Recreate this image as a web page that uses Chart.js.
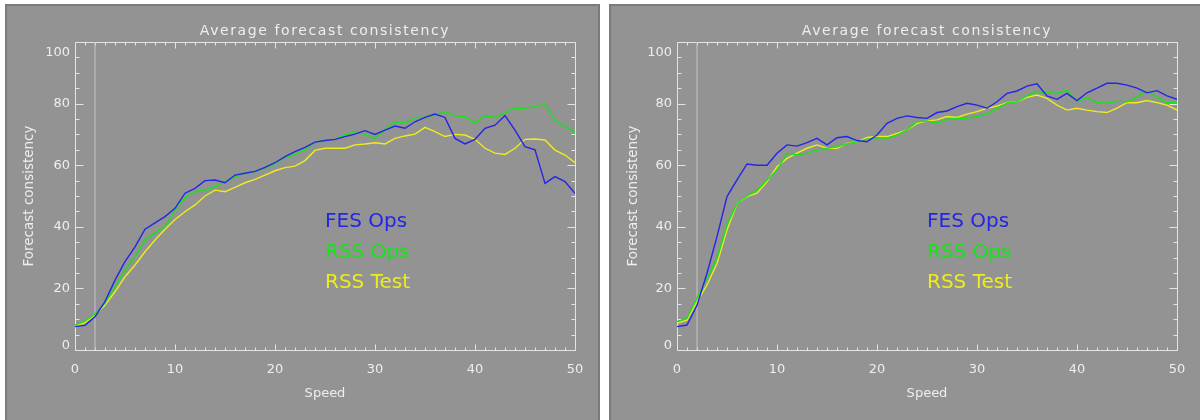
<!DOCTYPE html>
<html>
<head>
<meta charset="utf-8">
<title>Average forecast consistency</title>
<script src="https://cdn.jsdelivr.net/npm/chart.js@4/dist/chart.umd.min.js"></script>
<style>
  html, body { margin: 0; padding: 0; background: #ffffff; width: 1200px; height: 420px; overflow: hidden; }
  .panel { position: absolute; top: 4px; height: 424px; background: #939393; border: 2px solid #7b7b7b; box-sizing: border-box; }
  #panelA { left: 5px; width: 595px; }
  #panelB { left: 609px; width: 595px; }
  .panel canvas { position: absolute; left: 0; top: 0; }
</style>
</head>
<body>
<div class="panel" id="panelA"><canvas id="chartA" width="591" height="414"></canvas></div>
<div class="panel" id="panelB"><canvas id="chartB" width="589" height="414"></canvas></div>
<script>
// ---- data ----------------------------------------------------------------
const speeds = Array.from({ length: 51 }, (_, i) => i);   // speed bins 0..50
const seriesNames = ['FES Ops', 'RSS Ops', 'RSS Test'];
const chartTitle = 'Average forecast consistency';
const xAxisTitle = 'Speed';
const yAxisTitle = 'Forecast consistency';
const xTickStep = 10;
const yTickStep = 20;
const markerSpeed = 2;

// left panel
const fesOpsA = [7.6, 8.0, 10.8, 15.7, 22.7, 28.7, 33.5, 39.2, 41.3, 43.3,
  46.0, 50.9, 52.5, 55.0, 55.2, 54.3, 56.8, 57.4, 58.0, 59.3,
  60.8, 62.8, 64.4, 65.8, 67.5, 68.0, 68.4, 69.3, 70.1, 71.2,
  70.0, 71.4, 72.7, 72.0, 74.1, 75.5, 76.6, 75.5, 68.7, 66.9,
  68.4, 72.0, 73.0, 76.1, 71.4, 66.0, 65.0, 54.1, 56.3, 54.7, 50.9];
const rssOpsA = [8.1, 9.4, 11.7, 15.2, 20.6, 26.0, 30.3, 35.7, 38.1, 40.0,
  45.5, 49.6, 51.4, 51.9, 53.0, 54.7, 56.1, 57.4, 57.9, 59.0,
  60.6, 62.5, 63.5, 65.0, 67.6, 68.2, 68.4, 69.8, 70.9, 70.1,
  68.7, 71.6, 74.1, 73.6, 75.5, 75.5, 76.3, 77.4, 76.0, 75.8,
  73.6, 76.1, 75.5, 76.8, 78.5, 78.5, 79.0, 79.8, 74.5, 72.7, 70.6];
const rssTestA = [7.8, 8.9, 11.4, 14.6, 18.9, 23.8, 27.6, 31.9, 35.7, 39.2,
  42.4, 44.9, 47.1, 50.0, 51.9, 51.4, 52.8, 54.3, 55.4, 56.8,
  58.2, 59.2, 59.7, 61.5, 64.8, 65.5, 65.5, 65.5, 66.6, 66.9,
  67.3, 66.9, 68.7, 69.5, 70.1, 72.3, 70.9, 69.3, 70.0, 69.8,
  68.4, 65.5, 63.9, 63.5, 65.5, 68.4, 68.5, 68.2, 64.9, 63.3, 60.8];

// right panel
const fesOpsB = [7.6, 8.1, 14.5, 24.9, 36.8, 49.8, 55.2, 60.4, 60.0, 60.0,
  63.9, 66.6, 66.2, 67.3, 68.7, 66.6, 68.9, 69.3, 68.0, 67.6,
  69.8, 73.6, 75.2, 76.0, 75.5, 75.2, 77.1, 77.6, 79.0, 80.1,
  79.5, 78.5, 80.6, 83.3, 84.1, 85.7, 86.4, 82.5, 81.4, 83.3,
  81.0, 83.5, 85.0, 86.6, 86.6, 86.0, 85.0, 83.5, 84.2, 82.5, 81.4];
const rssOpsB = [9.2, 10.3, 16.8, 23.3, 29.8, 40.6, 47.6, 50.0, 51.9, 55.2,
  58.4, 63.9, 63.3, 63.9, 64.9, 65.5, 66.0, 66.9, 67.6, 68.4,
  69.0, 68.7, 69.8, 71.4, 74.1, 74.4, 73.6, 74.9, 75.2, 75.2,
  75.8, 76.6, 78.5, 80.1, 80.6, 82.5, 83.9, 83.5, 83.3, 84.4,
  80.6, 82.0, 80.3, 80.1, 80.8, 80.6, 82.3, 83.9, 82.0, 80.3, 80.3];
const rssTestB = [8.7, 9.7, 15.7, 21.1, 28.1, 39.0, 47.6, 49.8, 50.9, 54.7,
  59.5, 62.2, 63.9, 65.5, 66.6, 65.5, 65.5, 67.1, 67.6, 69.0,
  69.3, 69.3, 70.3, 71.4, 73.6, 74.4, 74.7, 75.8, 75.5, 76.6,
  77.4, 78.5, 79.2, 80.3, 80.6, 82.0, 82.8, 81.7, 79.5, 77.9,
  78.5, 77.9, 77.4, 77.1, 78.5, 80.3, 80.3, 81.0, 80.3, 79.5, 77.9];

// ---- styling ---------------------------------------------------------------
const FONT = '"DejaVu Sans", sans-serif';
const TEXT = '#eeeeee';
const AXIS = '#e4e4e4';
const MARKER = '#c6c6c6';
const seriesColors = ['#2525e8', '#16e416', '#ecec1e'];

// Box frame with inward major/minor ticks on all four sides, placed through the scales.
const frameTicks = {
  id: 'frameTicks',
  beforeDatasetsDraw(chart, args, opts) {
    const { ctx } = chart;
    const xs = chart.scales.x, ys = chart.scales.y;
    const snap = v => Math.round(v) + 0.5;
    const L = snap(xs.getPixelForValue(xs.min)), R = snap(xs.getPixelForValue(xs.max));
    const T = snap(ys.getPixelForValue(ys.max)), B = snap(ys.getPixelForValue(ys.min));
    ctx.save();
    ctx.strokeStyle = AXIS;
    ctx.lineWidth = 1;
    ctx.beginPath();
    ctx.rect(L, T, R - L, B - T);
    for (let v = xs.min; v <= xs.max; v += opts.xMinor) {
      const p = snap(xs.getPixelForValue(v));
      const len = (v % xTickStep === 0) ? opts.xMajorLen : opts.xMinorLen;
      ctx.moveTo(p, B); ctx.lineTo(p, B - len);
      ctx.moveTo(p, T); ctx.lineTo(p, T + len);
    }
    for (let v = ys.min; v <= ys.max; v += opts.yMinor) {
      const p = snap(ys.getPixelForValue(v));
      const len = (v % yTickStep === 0) ? opts.yMajorLen : opts.yMinorLen;
      ctx.moveTo(L, p); ctx.lineTo(L + len, p);
      ctx.moveTo(R, p); ctx.lineTo(R - len, p);
    }
    ctx.stroke();
    ctx.restore();
  }
};

// Series names written inside the plot, each in its line colour.
const seriesKey = {
  id: 'seriesKey',
  afterDatasetsDraw(chart, args, opts) {
    const { ctx } = chart;
    const xs = chart.scales.x, ys = chart.scales.y;
    ctx.save();
    ctx.font = '20px ' + FONT;
    ctx.textAlign = 'left';
    ctx.textBaseline = 'alphabetic';
    seriesNames.forEach((name, i) => {
      ctx.fillStyle = seriesColors[i];
      ctx.fillText(name, xs.getPixelForValue(opts.speed), ys.getPixelForValue(opts.value - i * opts.step));
    });
    ctx.restore();
  }
};

// Wider letter spacing for the chart title only.
const spacedTitle = {
  id: 'spacedTitle',
  beforeDraw(chart) {
    const tb = chart.titleBlock;
    if (tb && !tb._spaced) {
      const base = tb.draw;
      tb.draw = function () {
        const c = this.ctx;
        c.save();
        c.letterSpacing = '1.6px';
        base.apply(this, arguments);
        c.restore();
      };
      tb._spaced = true;
    }
  }
};

function makePanel(canvasId, values, yAxisWidth) {
  const datasets = values.map((vals, i) => ({
    label: seriesNames[i],
    data: speeds.map((s, k) => ({ x: s, y: vals[k] })),
    borderColor: seriesColors[i],
    borderWidth: 1.4,
    pointRadius: 0,
    tension: 0,
    fill: false
  }));
  datasets.push({
    label: 'marker',
    data: [{ x: markerSpeed, y: 0 }, { x: markerSpeed, y: 100 }],
    borderColor: MARKER,
    borderWidth: 1,
    pointRadius: 0
  });

  return new Chart(document.getElementById(canvasId), {
    type: 'line',
    data: { datasets },
    plugins: [spacedTitle, frameTicks, seriesKey],
    options: {
      responsive: false,
      animation: false,
      devicePixelRatio: 1,
      events: [],
      layout: { padding: { left: 0, right: 23, top: 0, bottom: 0 } },
      plugins: {
        legend: { display: false },
        tooltip: { enabled: false },
        title: {
          display: true,
          fullSize: false,
          text: chartTitle,
          color: TEXT,
          font: { family: FONT, size: 14, weight: 'normal', lineHeight: 1 },
          padding: { top: 18, bottom: 4 }
        },
        frameTicks: { xMinor: 1, xMajorLen: 6, xMinorLen: 3, yMinor: 5, yMajorLen: 8, yMinorLen: 4 },
        seriesKey: { speed: 25, value: 40, step: 10 }
      },
      scales: {
        x: {
          type: 'linear',
          min: 0,
          max: 50,
          grid: { display: false, drawTicks: false },
          border: { display: false },
          ticks: {
            stepSize: xTickStep,
            color: TEXT,
            font: { family: FONT, size: 13 },
            padding: 12,
            maxRotation: 0,
            autoSkip: false
          },
          title: {
            display: true,
            text: xAxisTitle,
            color: TEXT,
            font: { family: FONT, size: 13 },
            padding: { top: 0, bottom: 19 }
          },
          afterFit(s) { s.height = 70; }
        },
        y: {
          type: 'linear',
          min: 0,
          max: 100,
          grid: { display: false, drawTicks: false },
          border: { display: false },
          ticks: {
            stepSize: yTickStep,
            color: TEXT,
            padding: 5,
            // end labels sit just inside the axis range
            callback: v => v === 100 ? ['', '100'] : (v === 0 ? ['0', ''] : String(v)),
            font: c => ({
              family: FONT,
              size: 13,
              lineHeight: c.tick && c.tick.value === 100 ? '21px' : (c.tick && c.tick.value === 0 ? '8px' : 1.2)
            })
          },
          title: {
            display: true,
            text: yAxisTitle,
            color: TEXT,
            font: { family: FONT, size: 13.5 },
            padding: { top: 14, bottom: 0 }
          },
          afterFit(s) { s.width = yAxisWidth; }
        }
      }
    }
  });
}

makePanel('chartA', [fesOpsA, rssOpsA, rssTestA], 68);
makePanel('chartB', [fesOpsB, rssOpsB, rssTestB], 66);
</script>
</body>
</html>
